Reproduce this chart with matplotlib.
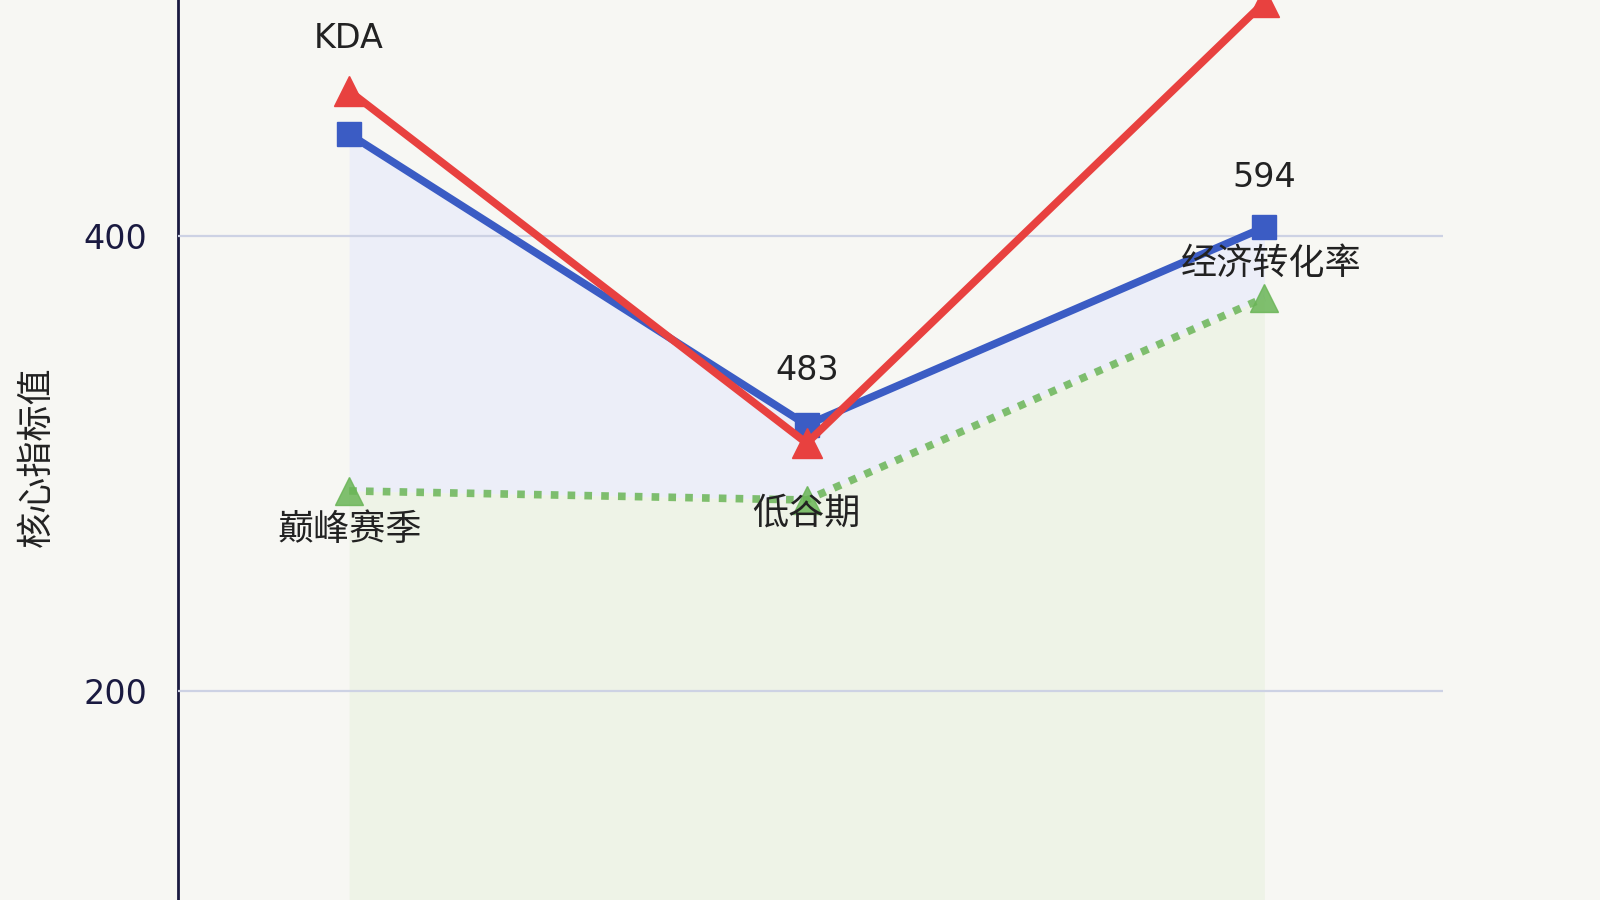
import matplotlib.pyplot as plt
import numpy as np

plt.rcParams['font.family'] = ['DejaVu Sans', 'Noto Sans CJK SC']

# data
stages = ["巅峰赛季", "低谷期", "经济转化率"]
blue_vals = [445, 317, 404]
red_vals = [464, 309, 503]
green_vals = [288, 284, 373]
y_ticks = [200, 400]
y_label = "核心指标值"

BLUE = "#3b5cc4"
RED = "#e8413f"
GREEN = "#6ab557"
BG = "#f7f7f3"

fig = plt.figure(figsize=(16, 9), dpi=100, facecolor=BG)
ax = fig.add_axes([174 / 1568, 0.0, (1414 - 174) / 1568, 1.0])
ax.set_facecolor(BG)

x = np.arange(len(stages))
y_min, y_max = 108, 504

# soft area fills (kept under the grid)
ax.fill_between(x, blue_vals, green_vals, color="#eceef8", lw=0, zorder=0.2)
ax.fill_between(x, green_vals, y_min, color="#eef3e7", lw=0, zorder=0.2)

ax.plot(x, green_vals, color=GREEN, lw=5.5, ls=(0, (1.0, 1.2)),
        marker="^", ms=20, alpha=0.85, zorder=3)
ax.plot(x, blue_vals, color=BLUE, lw=5.5, marker="s", ms=17, zorder=4)
ax.plot(x, red_vals, color=RED, lw=5.5, marker="^", ms=22, zorder=5)

# text annotations
num = dict(ha="center", va="center", fontsize=24, color="#222222",
           textcoords="offset points", zorder=6)
cjk = dict(num, fontsize=26)
ax.annotate("KDA", (x[0], red_vals[0]), xytext=(0, 38), **num)
ax.annotate("483", (x[1], blue_vals[1]), xytext=(0, 39), **num)
ax.annotate("594", (x[2], blue_vals[2]), xytext=(0, 36), **num)
ax.annotate(stages[2], (x[2], blue_vals[2]), xytext=(5, -26), **cjk)
ax.annotate(stages[0], (x[0], green_vals[0]), xytext=(0, -28), **cjk)
ax.annotate(stages[1], (x[1], green_vals[1]), xytext=(0, -10), **cjk)

ax.set_xlim(-0.375, 2.39)
ax.set_ylim(y_min, y_max)

ax.set_yticks(y_ticks)
ax.set_yticklabels([str(v) for v in y_ticks], fontsize=24, color="#1a1a40")
ax.tick_params(axis="y", length=0, pad=22)
ax.set_xticks([])
ax.yaxis.grid(True, color="#cdd2e4", lw=1.6, zorder=1)
ax.set_axisbelow(False)

for side in ["top", "right", "bottom"]:
    ax.spines[side].set_visible(False)
ax.spines["left"].set_color("#1a1a40")
ax.spines["left"].set_linewidth(2)

fig.text(36 / 1568, 1 - 448 / 882, y_label, rotation=90, ha="center",
         va="center", fontsize=26, color="#222222")

plt.savefig("out.png", dpi=100, facecolor=BG)
